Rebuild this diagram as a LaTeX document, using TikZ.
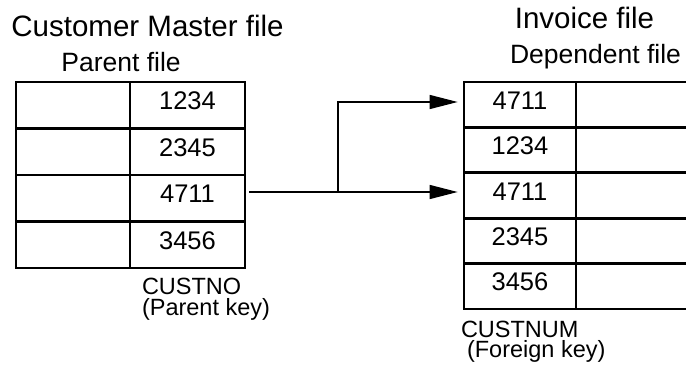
\documentclass[tikz,border=0pt]{standalone}
\usepackage{fontspec}
\setmainfont{Liberation Sans}
\usetikzlibrary{arrows.meta,calc}
\begin{document}
\begin{tikzpicture}[x=1pt,y=-1pt,
  cell/.style={draw, line width=2.7pt, inner sep=0pt, text height=18pt, text depth=9pt,
               font=\fontsize{25.5}{30}\selectfont},
  lrow/.style={cell, minimum height=46.5pt},
  rrow/.style={cell, minimum height=45.4pt},
  conn/.style={line width=1.3pt, -{Triangle[length=28pt,width=14pt]}, shorten >=5pt},
  title/.style={anchor=base, inner sep=0pt, font=\fontsize{29.5}{34}\selectfont},
  sub/.style={anchor=base, inner sep=0pt, font=\fontsize{26.5}{31}\selectfont},
  keylab/.style={anchor=north west, inner sep=0pt, align=left}]
\clip (0,0) rectangle (686,369);
\fill[white] (0,0) rectangle (686,369);

% headings
\node[title] (t1) at (147.5,37) {Customer Master file};
\node[title] (t2) at (584.5,29) {Invoice file};
\node[sub] (s1) at (121,72) {Parent file};
\node[sub] (s2) at (595.5,64) {Dependent file};

% parent table
\foreach \v [count=\i] in {1234,2345,4711,3456} {
  \node[lrow, minimum width=114pt] (L\i-a) at (73,{82+46.5*(\i-0.5)}) {};
  \node[lrow, minimum width=115pt] (L\i-b) at (187.5,{82+46.5*(\i-0.5)}) {\v};
}

% dependent table
\foreach \v [count=\i] in {4711,1234,4711,2345,3456} {
  \node[rrow, minimum width=112pt] (R\i-a) at (520,{82+45.4*(\i-0.5)}) {\v};
  \node[rrow, minimum width=144pt] (R\i-b) at (648,{82+45.4*(\i-0.5)}) {};
}

% key labels
\node[keylab, font=\fontsize{23.5}{21}\selectfont] (k1) at (141.8,277.8)
  {CUSTNO\\(Parent key)};
\node[keylab, font=\fontsize{23.5}{20}\selectfont] (k2) at (460.8,320.8)
  {CUSTNUM\\\hspace*{6pt}(Foreign key)};

% connectors
\coordinate (src) at (249,192);
\coordinate (jn) at (338,192);
\draw[conn] (src) -- (src -| R3-a.west);
\draw[conn] (jn) |- ([yshift=2.7pt]R1-a.west);
\end{tikzpicture}
\end{document}
